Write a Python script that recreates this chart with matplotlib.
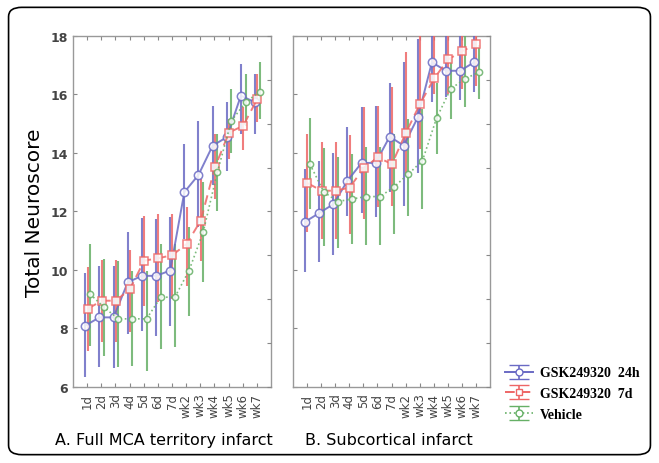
import numpy as np
import matplotlib
matplotlib.use("Agg")
from matplotlib import pyplot as plt
import matplotlib.patches as patches

days = ["1d", "2d", "3d", "4d", "5d", "6d", "7d", "wk2", "wk3", "wk4", "wk5", "wk6", "wk7"]

# Panel A: Full MCA territory infarct (mean, lower bar end, upper bar end)
a_24h = [8.1, 8.38, 8.38, 9.58, 9.8, 9.8, 9.98, 12.66, 13.25, 14.25, 14.54, 15.96, 15.73]
a_24h_lo = [6.34, 6.68, 6.65, 7.8, 7.92, 7.76, 8.1, 11.06, 11.47, 12.9, 13.4, 14.65, 14.65]
a_24h_hi = [9.9, 10.15, 10.15, 11.3, 11.78, 11.73, 11.8, 14.3, 15.1, 15.6, 15.73, 17.05, 16.7]

a_7d = [8.67, 8.95, 8.95, 9.35, 10.32, 10.4, 10.51, 10.89, 11.69, 13.51, 14.7, 14.93, 15.85]
a_7d_lo = [7.24, 7.54, 7.54, 7.87, 8.78, 8.9, 9.0, 9.46, 10.3, 12.43, 13.8, 14.1, 15.06]
a_7d_hi = [10.1, 10.35, 10.35, 10.7, 11.85, 11.9, 11.9, 12.15, 13.1, 14.65, 15.16, 15.57, 16.7]

a_veh = [9.18, 8.72, 8.33, 8.33, 8.33, 9.07, 9.07, 9.98, 11.29, 13.34, 15.1, 15.73, 16.1]
a_veh_lo = [7.41, 7.07, 6.68, 6.73, 6.56, 7.3, 7.36, 8.44, 9.58, 12.03, 14.0, 14.93, 15.16]
a_veh_hi = [10.9, 10.37, 10.3, 9.98, 9.98, 10.9, 10.9, 11.47, 13.0, 14.65, 16.2, 16.7, 17.1]

# Panel B: Subcortical infarct
b_24h = [11.65, 11.95, 12.25, 13.05, 13.66, 13.66, 14.56, 14.25, 15.22, 17.1, 16.81, 16.81, 17.1]
b_24h_lo = [9.92, 10.26, 10.5, 11.86, 11.95, 11.8, 12.67, 12.2, 13.3, 15.75, 15.9, 15.8, 16.1]
b_24h_hi = [13.45, 13.74, 14.0, 14.88, 15.56, 15.6, 16.4, 17.1, 17.9, 18.4, 18.3, 18.3, 18.4]

b_7d = [12.97, 12.71, 12.71, 12.82, 13.49, 13.85, 13.62, 14.7, 15.68, 16.55, 17.2, 17.48, 17.73]
b_7d_lo = [11.29, 11.06, 11.06, 11.23, 11.74, 12.15, 12.2, 13.22, 14.13, 16.0, 16.0, 16.2, 16.3]
b_7d_hi = [14.65, 14.37, 14.37, 14.6, 15.56, 15.62, 16.25, 17.45, 18.4, 18.4, 18.4, 18.4, 18.4]

b_veh = [13.62, 12.66, 12.34, 12.43, 12.51, 12.51, 12.85, 13.28, 13.74, 15.19, 16.19, 16.53, 16.76]
b_veh_lo = [12.09, 10.83, 10.75, 10.89, 10.85, 10.85, 11.23, 11.86, 12.09, 13.97, 15.16, 15.56, 15.85]
b_veh_hi = [15.2, 14.16, 13.86, 13.97, 14.2, 14.2, 14.65, 15.16, 15.5, 16.4, 17.2, 18.0, 17.7]

labels = ["GSK249320  24h", "GSK249320  7d", "Vehicle"]
colors = ["#6a6ac4", "#ee6666", "#66b066"]

fig = plt.figure(figsize=(6.59, 4.64), dpi=100)

# rounded frame around the whole figure
frame = patches.FancyBboxPatch((0.013, 0.018), 0.974, 0.964,
                               boxstyle="round,pad=0,rounding_size=0.02",
                               transform=fig.transFigure, fill=False,
                               edgecolor="black", linewidth=1.2)
fig.patches.append(frame)

ax_a = fig.add_axes([0.1108, 0.1638, 0.3005, 0.7565])
ax_b = fig.add_axes([0.4446, 0.1638, 0.299, 0.7565])

x = np.arange(len(days))
offsets = [-0.13, 0.03, 0.2]
styles = [dict(ls="-", marker="o", ms=6, lw=1.4),
          dict(ls=(0, (5, 3)), marker="s", ms=6, lw=1.4),
          dict(ls=":", marker="o", ms=4.5, lw=1.2)]


def draw_panel(ax, series, show_labels):
    for (m, lo, hi), off, c, st in zip(series, offsets, colors, styles):
        m = np.array(m)
        err = [m - np.array(lo), np.array(hi) - m]
        ax.errorbar(x + off, m, yerr=err, color=c, ecolor=c, elinewidth=1.5,
                    capsize=0, mfc="white", mec=c, mew=1.1, alpha=0.85,
                    zorder=3, **st)
    ax.set_xlim(-1, 13)
    ax.set_ylim(6, 18)
    ax.set_yticks([6, 8, 10, 12, 14, 16, 18])
    ax.set_xticks(x)
    ax.set_xticklabels(days, rotation=90, fontsize=8.5, color="#444")
    ax.tick_params(axis="both", direction="in", length=3, color="#888",
                   top=True, width=0.8)
    ax.tick_params(axis="x", pad=4)
    if show_labels:
        ax.set_yticklabels([str(v) for v in [6, 8, 10, 12, 14, 16, 18]],
                           fontsize=9, fontweight="bold", color="#444")
    else:
        ax.set_yticklabels([])
    for s in ax.spines.values():
        s.set_color("#999")
        s.set_linewidth(1.0)
    twin = ax.twinx()
    twin.set_ylim(6, 18)
    twin.set_yticks(np.arange(6, 18.1, 1.5))
    twin.set_yticklabels([])
    twin.tick_params(direction="in", length=3, color="#888")
    for s in twin.spines.values():
        s.set_visible(False)


draw_panel(ax_a, [(a_24h, a_24h_lo, a_24h_hi), (a_7d, a_7d_lo, a_7d_hi),
                  (a_veh, a_veh_lo, a_veh_hi)], True)
draw_panel(ax_b, [(b_24h, b_24h_lo, b_24h_hi), (b_7d, b_7d_lo, b_7d_hi),
                  (b_veh, b_veh_lo, b_veh_hi)], False)

ax_a.set_ylabel("Total Neuroscore", fontsize=14.5, labelpad=5)

# legend handles with caps
handles = []
for c, st in zip(colors, styles):
    h = ax_b.errorbar([np.nan], [np.nan], yerr=[1], color=c, ecolor=c,
                      capsize=7, elinewidth=1.2, mfc="white", mec=c,
                      **{k: v for k, v in st.items() if k != "ms"}, ms=5)
    handles.append(h)
fig.legend(handles, labels, loc="upper left", bbox_to_anchor=(0.748, 0.235),
           frameon=False, handlelength=2.0, handletextpad=0.5, labelspacing=0.55,
           prop=dict(family="Liberation Serif", weight="bold", size=10))

fig.text(0.083, 0.04, "A. Full MCA territory infarct", fontsize=11.5)
fig.text(0.463, 0.04, "B. Subcortical infarct", fontsize=11.5)

fig.savefig("out.png", dpi=100)
